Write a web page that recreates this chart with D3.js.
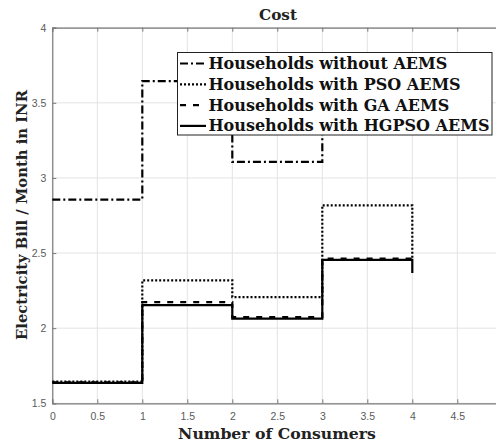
<!DOCTYPE html>
<html>
<head>
<meta charset="utf-8">
<script src="https://cdn.jsdelivr.net/npm/d3@7"></script>
<style>
  html, body { margin: 0; padding: 0; background: #fff; }
  svg { display: block; }
</style>
</head>
<body>
<svg id="chart" width="496" height="444"></svg>
<script>
// Consumer breakpoints (stairs x positions)
const consumers = [0, 1, 2, 3, 4];

// Monthly electricity bill per scheme (stairs y values, one per breakpoint)
const billWithout = [2.856, 3.645, 3.107, 3.55, 3.55];
const billPSO     = [1.645, 2.318, 2.207, 2.818, 2.46];
const billGA      = [1.640, 2.173, 2.073, 2.463, 2.46];
const billHGPSO   = [1.636, 2.153, 2.063, 2.455, 2.367];

const seriesNames = [
  "Households without AEMS",
  "Households with PSO AEMS",
  "Households with GA AEMS",
  "Households with HGPSO AEMS"
];
const seriesDash = ["8,3,2,3", "2,2", "6,7", null];

const xTicks = [0, 0.5, 1, 1.5, 2, 2.5, 3, 3.5, 4, 4.5];
const yTicks = [1.5, 2, 2.5, 3, 3.5, 4];

const svg = d3.select("#chart");
const plotL = 52.3, plotR = 502.3, plotT = 27.7, plotB = 403.3;

const x = d3.scaleLinear().domain([0, 5]).range([plotL, plotR]);
const y = d3.scaleLinear().domain([1.5, 4]).range([plotB, plotT]);

const serif = "'DejaVu Serif', 'Liberation Serif', serif";
const sans = "'Liberation Sans', Arial, sans-serif";

// scale a text element's font size so that it spans the given width
function fitWidth(sel, width) {
  const size = parseFloat(sel.attr("font-size"));
  const w = sel.node().getComputedTextLength();
  if (w > 0) sel.attr("font-size", size * width / w);
  return sel;
}

// grid
const grid = svg.append("g").attr("stroke", "#e3e3e3").attr("stroke-width", 1);
grid.selectAll("line.v").data(xTicks.concat([5])).join("line").attr("class", "v")
  .attr("x1", d => x(d)).attr("x2", d => x(d))
  .attr("y1", plotT).attr("y2", plotB);
grid.selectAll("line.h").data(yTicks).join("line").attr("class", "h")
  .attr("x1", plotL).attr("x2", plotR)
  .attr("y1", d => y(d)).attr("y2", d => y(d));

// axes (ticks pointing inward, box on)
const axisColor = "#7a7a7a";
const xAxis = svg.append("g").attr("transform", `translate(0,${plotB})`)
  .call(d3.axisBottom(x).tickValues(xTicks).tickSize(-4).tickPadding(9)
    .tickFormat(d3.format("~g")));
const xAxisTop = svg.append("g").attr("transform", `translate(0,${plotT})`)
  .call(d3.axisTop(x).tickValues(xTicks).tickSize(-4).tickFormat(""));
const yAxis = svg.append("g").attr("transform", `translate(${plotL},0)`)
  .call(d3.axisLeft(y).tickValues(yTicks).tickSize(-4).tickPadding(6)
    .tickFormat(d3.format("~g")));
[xAxis, xAxisTop, yAxis].forEach(g => {
  g.select(".domain").attr("stroke", axisColor).attr("stroke-width", 1.2);
  g.selectAll(".tick line").attr("stroke", axisColor);
  g.selectAll("text").attr("fill", "#5a5a5a").style("font-family", sans).style("font-size", "10.5px");
});
yAxis.selectAll(".tick").filter(d => d === 1.5).select("line").remove();

// stair lines
const stairs = d3.line().x(d => x(d[0])).y(d => y(d[1])).curve(d3.curveStepAfter);
const allSeries = [billWithout, billPSO, billGA, billHGPSO];
allSeries.forEach((vals, i) => {
  svg.append("path")
    .datum(consumers.map((c, k) => [c, vals[k]]))
    .attr("d", stairs)
    .attr("fill", "none")
    .attr("stroke", "#000")
    .attr("stroke-width", 2.2)
    .attr("stroke-dasharray", seriesDash[i]);
});

// legend
const lg = svg.append("g");
lg.append("rect")
  .attr("x", 177.5).attr("y", 52.5).attr("width", 314.5).attr("height", 82.5)
  .attr("fill", "#fff").attr("stroke", "#222").attr("stroke-width", 1);
const legendTexts = seriesNames.map((name, i) => {
  const cy = 63.5 + i * 20.8;
  lg.append("line")
    .attr("x1", 180).attr("x2", 206).attr("y1", cy).attr("y2", cy)
    .attr("stroke", "#000").attr("stroke-width", 2.2)
    .attr("stroke-dasharray", seriesDash[i]);
  return lg.append("text")
    .attr("x", 208.5).attr("y", cy + 5.5)
    .attr("font-family", serif).attr("font-weight", "bold")
    .attr("font-size", 16).attr("fill", "#111")
    .text(name);
});
// one font size for all entries, set by the longest one
{
  const w = legendTexts[3].node().getComputedTextLength();
  const fs = 16 * 281 / w;
  legendTexts.forEach(t => t.attr("font-size", fs));
}

// title and axis labels
fitWidth(svg.append("text").attr("x", 278).attr("y", 20)
  .attr("text-anchor", "middle").attr("font-family", serif)
  .attr("font-weight", "bold").attr("font-size", 13.5).attr("fill", "#222")
  .text("Cost"), 38);
fitWidth(svg.append("text").attr("x", 277).attr("y", 439)
  .attr("text-anchor", "middle").attr("font-family", serif)
  .attr("font-weight", "bold").attr("font-size", 15.5).attr("fill", "#222")
  .text("Number of Consumers"), 198);
fitWidth(svg.append("text")
  .attr("transform", "translate(26.5,215) rotate(-90)")
  .attr("text-anchor", "middle").attr("font-family", serif)
  .attr("font-weight", "bold").attr("font-size", 15.5).attr("fill", "#222")
  .text("Electricity Bill / Month in INR"), 250);
</script>
</body>
</html>
